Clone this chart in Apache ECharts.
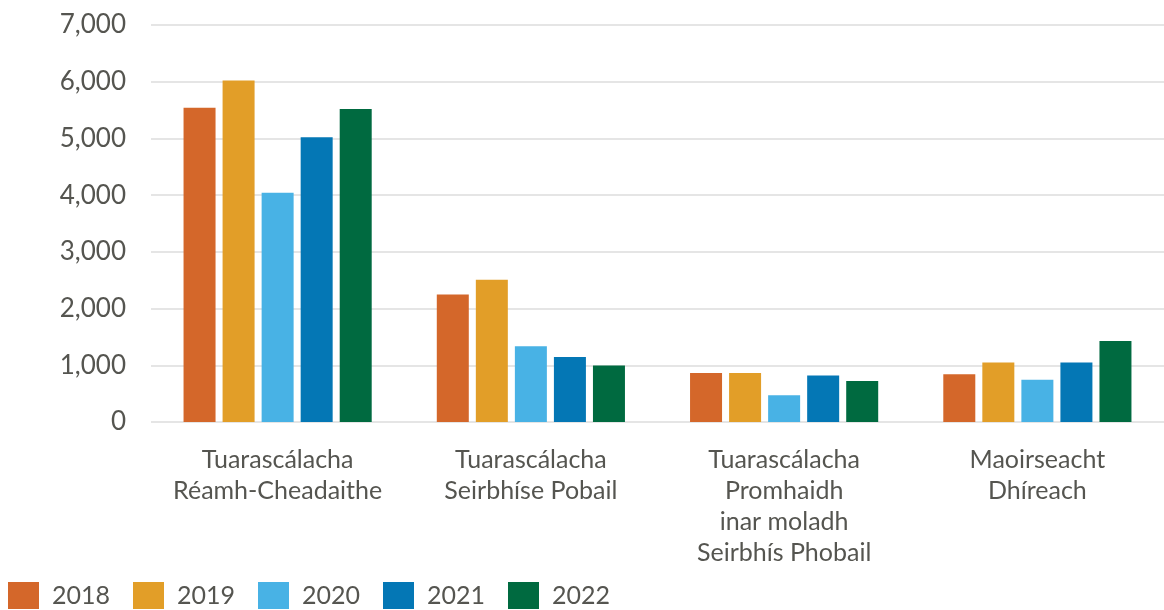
<!DOCTYPE html>
<html>
<head>
<meta charset="utf-8">
<script src="https://cdn.jsdelivr.net/npm/echarts@6/dist/echarts.min.js"></script>
<style>
  html, body { margin: 0; padding: 0; background: #fff; }
  #chart { width: 1164px; height: 610px; }
</style>
</head>
<body>
<div id="chart"></div>
<script>
// categories along the x axis
var categories = [
    'Tuarascálacha\nRéamh-Cheadaithe',
    'Tuarascálacha\nSeirbhíse Pobail',
    'Tuarascálacha\nPromhaidh\ninar moladh\nSeirbhís Phobail',
    'Maoirseacht\nDhíreach'
];
var years = ['2018', '2019', '2020', '2021', '2022'];

// values
var v2018 = [5540, 2250, 865, 840];
var v2019 = [6020, 2510, 865, 1050];
var v2020 = [4040, 1335, 470, 745];
var v2021 = [5020, 1145, 820, 1050];
var v2022 = [5520, 995, 725, 1430];

var colors = ['#D4672A', '#E29E28', '#48B2E5', '#0477B5', '#006A40'];
var values = [v2018, v2019, v2020, v2021, v2022];

var textColor = '#555550';
var font = 'Lato, "Open Sans", sans-serif';

var myChart = echarts.init(document.getElementById('chart'));

var series = years.map(function (y, i) {
    return {
        name: y,
        type: 'bar',
        data: values[i],
        barWidth: 32,
        barGap: '22%',
        itemStyle: { color: colors[i] }
    };
});

myChart.setOption({
    animation: false,
    textStyle: { fontFamily: font },
    legend: {
        left: 8,
        top: 582,
        padding: 0,
        itemWidth: 31,
        itemHeight: 27,
        itemGap: 23,
        icon: 'rect',
        textStyle: { fontSize: 25, color: textColor, fontFamily: font, padding: [0, 0, 0, 8] },
        data: years
    },
    grid: {
        left: 151,
        top: 25,
        width: 1022,
        height: 397,
        containLabel: false
    },
    xAxis: {
        type: 'category',
        data: categories,
        axisLine: { show: false },
        axisTick: { show: false },
        axisLabel: {
            interval: 0,
            margin: 22,
            fontSize: 25,
            lineHeight: 31,
            color: textColor,
            fontFamily: font
        }
    },
    yAxis: {
        type: 'value',
        min: 0,
        max: 7000,
        interval: 1000,
        axisLine: { show: false },
        axisTick: { show: false },
        axisLabel: {
            margin: 25,
            fontSize: 26,
            color: textColor,
            fontFamily: font,
            formatter: function (v) { return v.toLocaleString('en-US'); }
        },
        splitLine: { lineStyle: { color: '#dcdcdc', width: 1.5 } }
    },
    series: series
});
</script>
</body>
</html>
